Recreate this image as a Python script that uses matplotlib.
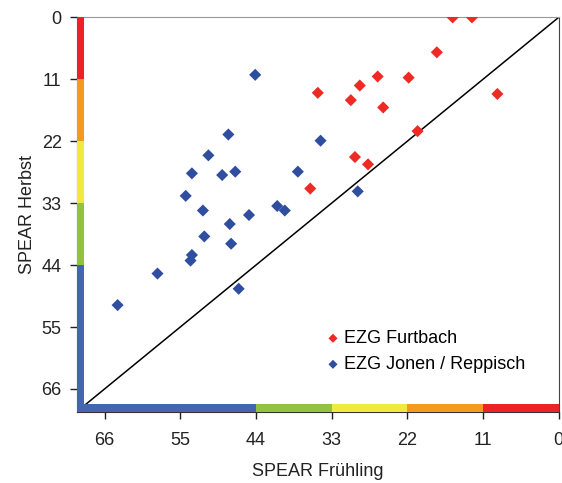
import matplotlib.pyplot as plt
from matplotlib.patches import Rectangle

plt.rcParams['font.family'] = ['Liberation Sans', 'DejaVu Sans']

# SPEAR Frühling (x) / SPEAR Herbst (y)
furt_x = [15.4, 12.6, 17.7, 26.3, 21.8, 28.9, 35.0, 30.2, 25.5, 8.9, 20.5, 29.6, 27.7, 36.1]
furt_y = [0.0, 0.0, 6.2, 10.5, 10.7, 12.1, 13.4, 14.7, 16.0, 13.6, 20.2, 24.8, 26.1, 30.4]

jonen_x = [44.1, 48.0, 50.9, 53.3, 48.9, 47.0, 37.9, 54.2, 51.7, 45.0, 40.9, 39.8, 34.6, 29.2,
           47.8, 51.5, 47.6, 53.3, 53.5, 58.3, 46.5, 64.1]
jonen_y = [10.2, 20.8, 24.5, 27.7, 28.0, 27.4, 27.4, 31.7, 34.3, 35.1, 33.5, 34.3, 21.9, 30.9,
           36.7, 38.9, 40.2, 42.2, 43.2, 45.5, 48.2, 51.1]

# class bands of the SPEAR scale
band_edges = [0, 11, 22, 33, 44, 70]
band_colors = ['#ED2224', '#F39A1F', '#F0E93E', '#93C240', '#4465B0']
ticks = [0, 11, 22, 33, 44, 55, 66]

fig = plt.figure(figsize=(5.62, 4.83), dpi=100)
ax = fig.add_axes([0.137, 0.148, 0.857, 0.816])

ax.set_xlim(70, 0)
ax.set_ylim(70, 0)

# 1:1 line
ax.plot([0, 70], [0, 70], color='black', lw=1.1, zorder=2)

ax.scatter(furt_x, furt_y, marker='D', s=38, color='#EE2A25', edgecolors='none',
           label='EZG Furtbach', zorder=3)
ax.scatter(jonen_x, jonen_y, marker='D', s=38, color='#2F4EA0', edgecolors='none',
           label='EZG Jonen / Reppisch', zorder=3)

# coloured bars along left and bottom axes
ytr = ax.get_yaxis_transform()
xtr = ax.get_xaxis_transform()
for lo, hi, c in zip(band_edges[:-1], band_edges[1:], band_colors):
    ax.add_patch(Rectangle((0, lo), 0.0145, hi - lo, transform=ytr, color=c,
                           lw=0, zorder=4, clip_on=False))
    ax.add_patch(Rectangle((lo, 0), hi - lo, 0.02, transform=xtr, color=c,
                           lw=0, zorder=4, clip_on=False))

ax.set_xticks(ticks)
ax.set_yticks(ticks)
ax.tick_params(labelsize=13, colors='#222222', length=5, width=1, pad=6)
ax.tick_params(axis='x', pad=10)
for s in ['left', 'bottom']:
    ax.spines[s].set_color('#333333')
ax.spines['right'].set_color('#444444')
ax.spines['top'].set_color('#999999')

ax.set_xlabel('SPEAR Frühling', fontsize=13, color='#222222', labelpad=10)
ax.set_ylabel('SPEAR Herbst', fontsize=13, color='#222222', labelpad=4)

ax.legend(loc='upper left', bbox_to_anchor=(0.479, 0.248), frameon=False, fontsize=13,
          handlelength=1.0, handletextpad=0.1, labelspacing=0.5, markerscale=0.75)

fig.savefig('out.png', dpi=100)
